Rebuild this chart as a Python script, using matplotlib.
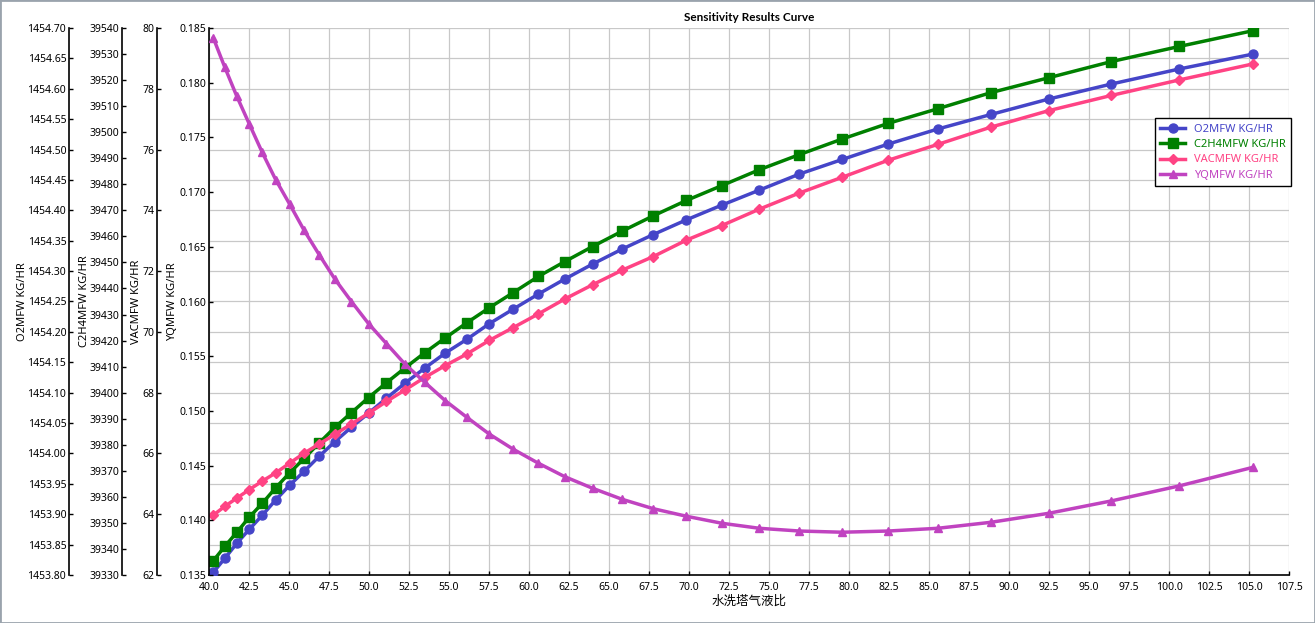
import matplotlib
matplotlib.use("Agg")
import matplotlib.pyplot as plt
from matplotlib.ticker import MultipleLocator, FormatStrFormatter
from matplotlib.patches import Rectangle

plt.rcParams["font.family"] = ["Noto Sans", "Noto Sans CJK SC", "DejaVu Sans"]

# liquid/gas ratio of the wash tower (x axis)
ratio = [40.27, 40.99, 41.74, 42.52, 43.33, 44.17, 45.04, 45.95, 46.89, 47.87,
         48.90, 49.97, 51.09, 52.25, 53.48, 54.76, 56.11, 57.52, 59.01, 60.58,
         62.23, 63.97, 65.82, 67.77, 69.84, 72.05, 74.40, 76.90, 79.58, 82.46,
         85.55, 88.88, 92.48, 96.39, 100.63, 105.27]

o2 = [1453.8044, 1453.8275, 1453.8522, 1453.8752, 1453.8983, 1453.9235,
      1453.9477, 1453.9707, 1453.9954, 1454.0195, 1454.0432, 1454.0662,
      1454.0909, 1454.1156, 1454.1403, 1454.1650, 1454.1877, 1454.2135,
      1454.2374, 1454.2621, 1454.2868, 1454.3115, 1454.3362, 1454.3602,
      1454.3844, 1454.4086, 1454.4333, 1454.4597, 1454.4837, 1454.5091,
      1454.5338, 1454.5578, 1454.5831, 1454.6078, 1454.6325, 1454.6572]

c2h4 = [39335.5, 39341.0, 39346.4, 39352.2, 39357.5, 39363.5, 39369.2, 39374.8,
        39380.7, 39386.7, 39392.3, 39398.1, 39403.8, 39409.5, 39415.3, 39421.0,
        39426.8, 39432.6, 39438.4, 39444.6, 39450.3, 39456.1, 39462.0, 39467.9,
        39473.8, 39479.5, 39485.6, 39491.4, 39497.4, 39503.4, 39509.0, 39515.2,
        39520.9, 39527.1, 39532.9, 39539.0]

vac = [63.97, 64.26, 64.53, 64.81, 65.09, 65.36, 65.68, 66.01, 66.31, 66.63,
       66.97, 67.32, 67.71, 68.09, 68.50, 68.89, 69.27, 69.72, 70.14, 70.59,
       71.08, 71.55, 72.03, 72.48, 73.02, 73.50, 74.04, 74.57, 75.09, 75.65,
       76.17, 76.74, 77.28, 77.78, 78.29, 78.82]

yq = [0.18409, 0.18140, 0.17875, 0.17622, 0.17362, 0.17113, 0.16890, 0.16649,
      0.16427, 0.16204, 0.16000, 0.15798, 0.15615, 0.15427, 0.15262, 0.15094,
      0.14942, 0.14788, 0.14650, 0.14522, 0.14399, 0.14293, 0.14192, 0.14106,
      0.14037, 0.13973, 0.13927, 0.13902, 0.13891, 0.13902, 0.13927, 0.13982,
      0.14064, 0.14177, 0.14314, 0.14485]

series_names = ["O2MFW KG/HR", "C2H4MFW KG/HR", "VACMFW KG/HR", "YQMFW KG/HR"]
x_label = "水洗塔气液比"
title = "Sensitivity Results Curve"

# axis ranges
o2_lim = (1453.80, 1454.70)
c2h4_lim = (39330, 39540)
vac_lim = (62, 80)
yq_lim = (0.135, 0.185)

fig = plt.figure(figsize=(13.15, 6.23), dpi=100)
ax = fig.add_axes([209 / 1315, 48 / 623, 1080 / 1315, 547 / 623])
ax2 = ax.twinx()
ax3 = ax.twinx()
ax4 = ax.twinx()

styles = [
    (ax, o2, "#4545C8", "o", 6.5, o2_lim, 0.05, "%.2f", -0.1296, -0.168),
    (ax2, c2h4, "#008000", "s", 7, c2h4_lim, 10, "%d", -0.0806, -0.1102),
    (ax3, vac, "#FF4384", "D", 5.5, vac_lim, 2, "%d", -0.0481, -0.062),
    (ax4, yq, "#C043C0", "^", 6, yq_lim, 0.005, "%.3f", 0.0, -0.0287),
]

handles = []
for (a, values, color, marker, ms, lim, step, fmt, offset, lab_x), name in zip(styles, series_names):
    h, = a.plot(ratio, values, color=color, lw=2.5, marker=marker, ms=ms,
                label=name, zorder=3)
    handles.append(h)
    a.set_ylim(*lim)
    a.yaxis.set_major_locator(MultipleLocator(step))
    a.yaxis.set_major_formatter(FormatStrFormatter(fmt))
    a.yaxis.set_ticks_position("left")
    a.yaxis.set_label_position("left")
    a.spines["left"].set_position(("axes", offset))
    a.spines["left"].set_visible(True)
    a.spines["right"].set_visible(False)
    a.spines["top"].set_visible(False)
    a.spines["left"].set_linewidth(1.2)
    a.tick_params(axis="y", labelsize=7.5, length=3, width=1, direction="in", pad=2)
    a.set_ylabel(name, fontsize=8)
    a.yaxis.set_label_coords(lab_x, 0.5)

ax.set_xlim(40, 107.5)
ax.xaxis.set_major_locator(MultipleLocator(2.5))
ax.xaxis.set_major_formatter(FormatStrFormatter("%.1f"))
ax.tick_params(axis="x", labelsize=7.5, length=3, width=1, direction="in", pad=5)
ax.spines["bottom"].set_linewidth(1.2)
for a in (ax2, ax3, ax4):
    a.spines["bottom"].set_visible(False)
ax.grid(True, color="#C8C8C8", lw=0.9)
ax.set_axisbelow(True)
ax.set_xlabel(x_label, fontsize=9, labelpad=1)
ax.set_title(title, fontsize=8.5, fontweight="bold", family=["Lato", "DejaVu Sans"], pad=5)

leg = ax4.legend(handles=handles, loc="upper right",
                 bbox_to_anchor=(1291 / 1315, 1 - 118 / 623),
                 bbox_transform=fig.transFigure, borderaxespad=0, fontsize=8,
                 frameon=True, fancybox=False, edgecolor="black", framealpha=1,
                 handlelength=2.2, borderpad=0.5, labelspacing=0.4)
leg.get_frame().set_linewidth(1)
for text, h in zip(leg.get_texts(), handles):
    text.set_color(h.get_color())

fig.patches.append(Rectangle((0, 0), 1, 1, transform=fig.transFigure,
                             fill=False, edgecolor="#9AA3AD", lw=2))

fig.savefig("out.png", dpi=100)
